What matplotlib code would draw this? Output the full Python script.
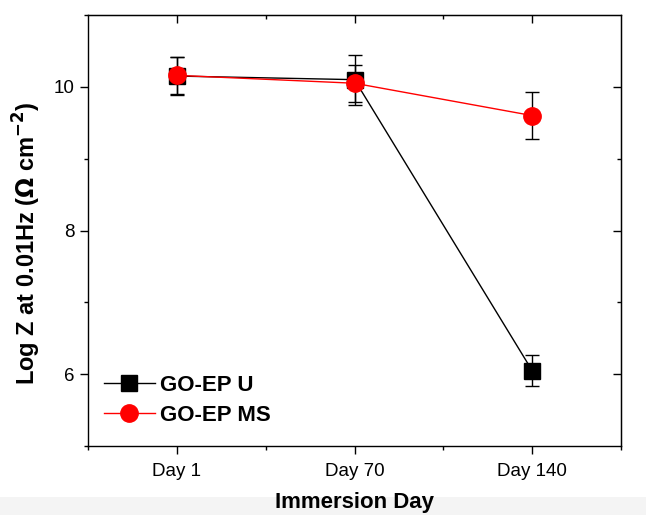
import numpy as np
import matplotlib.pyplot as plt
from matplotlib.patches import Rectangle
from matplotlib.lines import Line2D

plt.rcParams['font.family'] = ['Liberation Sans', 'DejaVu Sans']

days = ['Day 1', 'Day 70', 'Day 140']
u_vals = [10.15, 10.10, 6.05]
u_err = [0.26, 0.35, 0.22]
ms_vals = [10.16, 10.05, 9.60]
ms_err = [0.26, 0.26, 0.33]

x = np.arange(len(days))

fig = plt.figure(figsize=(6.46, 5.15), dpi=100)
# light grey strip at the very bottom of the screenshot
fig.patches.append(Rectangle((0, 0), 1, 18 / 515, transform=fig.transFigure,
                             facecolor='#f4f4f4', edgecolor='none', zorder=-1))
ax = fig.add_axes([88 / 646, 1 - 446 / 515, (621 - 88) / 646, (446 - 15) / 515])

ax.errorbar(x, u_vals, yerr=u_err, color='black', marker='s', markersize=11,
            linewidth=1, ecolor='black', elinewidth=1, capsize=5, capthick=1,
            zorder=2)
ax.errorbar(x, ms_vals, yerr=ms_err, color='red', marker='o', markersize=12.5,
            linewidth=1, ecolor='black', elinewidth=1, capsize=5, capthick=1,
            zorder=3)

ax.set_xlim(-0.5, 2.5)
ax.set_ylim(5, 11)
ax.set_xticks(x)
ax.set_xticklabels(days)
ax.set_xticks([-0.5, 0.5, 1.5, 2.5], minor=True)
ax.set_yticks([6, 8, 10])
ax.set_yticks([5, 7, 9, 11], minor=True)
ax.tick_params(axis='both', which='major', labelsize=13.5, length=6, width=1, direction='out')
ax.tick_params(axis='both', which='minor', length=3, width=1, direction='out')
ax.tick_params(axis='x', pad=6)

# mirrored ticks on top and right, pointing inwards
top = ax.secondary_xaxis('top')
top.set_xticks(x)
top.set_xticks([0.5, 1.5], minor=True)
top.tick_params(which='major', direction='in', length=6, width=1, labeltop=False)
top.tick_params(which='minor', direction='in', length=3, width=1)
right = ax.secondary_yaxis('right')
right.set_yticks([6, 8, 10])
right.set_yticks([7, 9], minor=True)
right.tick_params(which='major', direction='in', length=6, width=1, labelright=False)
right.tick_params(which='minor', direction='in', length=3, width=1)

for sp in ax.spines.values():
    sp.set_linewidth(1)

ax.set_xlabel('Immersion Day', fontsize=16, fontweight='bold', labelpad=9)
ax.set_ylabel('Log Z at 0.01Hz ($\\mathbf{\\Omega}$ cm$^{\\mathbf{-2}}$)', fontsize=17,
              fontweight='bold')
ax.yaxis.set_label_coords(-0.085, 0.47)

handles = [
    Line2D([], [], color='black', marker='s', markersize=11, linewidth=1),
    Line2D([], [], color='red', marker='o', markersize=12.5, linewidth=1),
]
ax.legend(handles, ['GO-EP U', 'GO-EP MS'], loc='lower left',
          bbox_to_anchor=(0.0, 0.01), frameon=False,
          prop={'size': 16, 'weight': 'bold'}, handlelength=2.3,
          handletextpad=0.25, labelspacing=0.4, borderaxespad=0.3)

fig.savefig('out.png', dpi=100)
